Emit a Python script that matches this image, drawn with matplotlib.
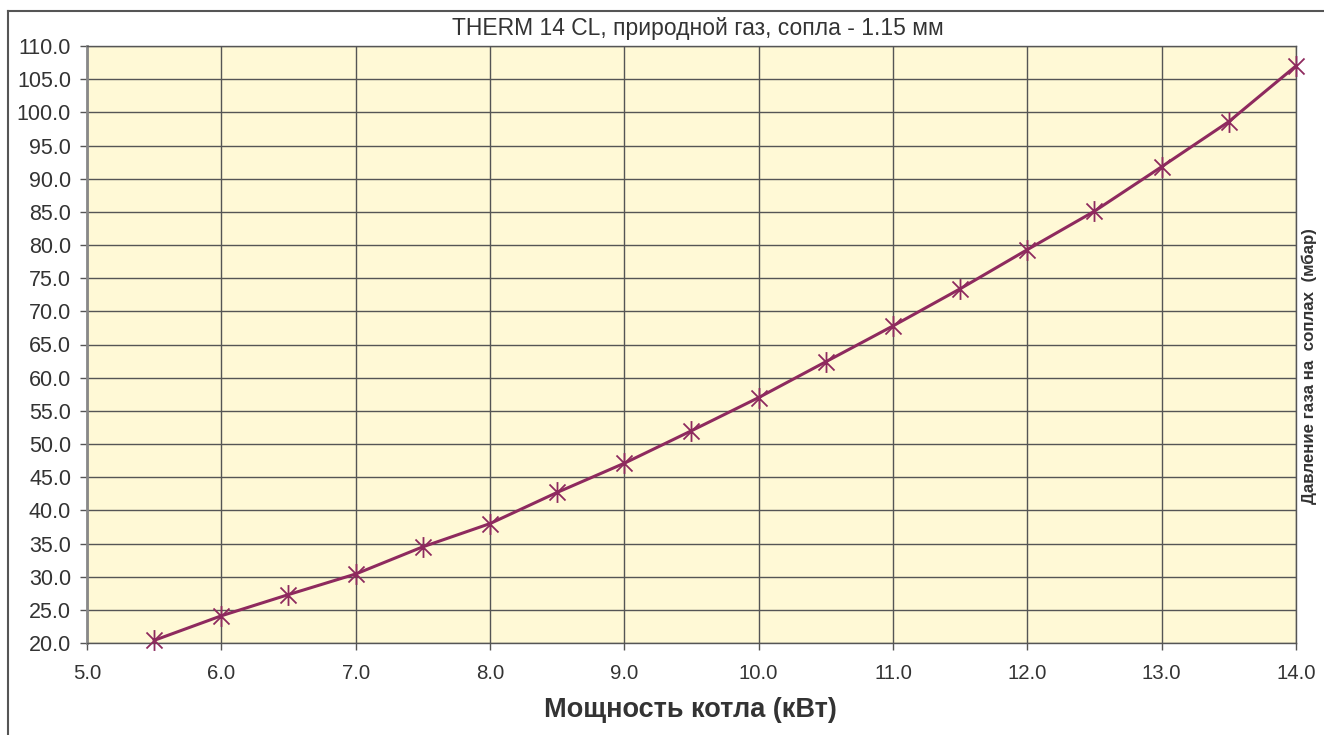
import matplotlib
matplotlib.use("Agg")
import matplotlib.pyplot as plt
from matplotlib.path import Path
from matplotlib.lines import Line2D
import numpy as np

plt.rcParams['font.family'] = ['Liberation Sans', 'DejaVu Sans']

power_kw = [5.5, 6.0, 6.5, 7.0, 7.5, 8.0, 8.5, 9.0, 9.5, 10.0, 10.5, 11.0, 11.5, 12.0, 12.5, 13.0, 13.5, 14.0]
pressure_mbar = [20.4, 24.1, 27.3, 30.4, 34.5, 38.0, 42.7, 47.1, 52.0, 57.0, 62.4, 67.8, 73.4, 79.3, 85.1, 91.8, 98.6, 107.0]
x_ticks = [5.0, 6.0, 7.0, 8.0, 9.0, 10.0, 11.0, 12.0, 13.0, 14.0]
y_ticks = list(np.arange(20.0, 110.1, 5.0))

title = "THERM 14 CL, природной газ, сопла - 1.15 мм"
xlabel = "Мощность котла (кВт)"
ylabel = "Давление газа на  соплах  (мбар)"

W, H = 1324, 735
fig = plt.figure(figsize=(W / 100, H / 100), dpi=100)
fig.patch.set_facecolor('white')

ax = fig.add_axes([87 / W, 1 - 643 / H, (1296 - 87) / W, (643 - 46) / H])
ax.set_facecolor('#FFF9D6')

star = Path([(-1, -1), (1, 1), (-1, 1), (1, -1), (0, -1.3), (0, 1.3)],
            [Path.MOVETO, Path.LINETO, Path.MOVETO, Path.LINETO, Path.MOVETO, Path.LINETO])

ax.plot(power_kw, pressure_mbar, color='#8E2A5E', lw=2.2, marker=star,
        markersize=15, markeredgewidth=1.3, markeredgecolor='#8E2A5E', clip_on=False, zorder=5)

ax.set_xlim(5.0, 14.0)
ax.set_ylim(20.0, 110.0)
ax.set_xticks(x_ticks)
ax.set_yticks(y_ticks)
ax.set_xticklabels([f"{v:.1f}" for v in x_ticks])
ax.set_yticklabels([f"{v:.1f}" for v in y_ticks])
ax.tick_params(axis='both', direction='out', width=1, color='#555555', labelcolor='#333333')
ax.tick_params(axis='y', length=5, pad=6.5, labelsize=15.5)
ax.tick_params(axis='x', length=5, pad=10, labelsize=14.7)
ax.grid(True, color='#555555', lw=1)
ax.set_axisbelow(True)
for s in ax.spines.values():
    s.set_color('#555555')
    s.set_linewidth(1)
ax.spines['left'].set_color('#888888')
ax.spines['left'].set_linewidth(2)

fig.text(698 / W, 1 - 28 / H, title, ha='center', va='center', fontsize=16.5, color='#333333')
fig.text(690 / W, 1 - 717 / H, xlabel, ha='center', va='baseline', fontsize=19.5,
         fontweight='bold', color='#333333')
fig.text(1309 / W, 1 - 366 / H, ylabel, ha='center', va='center', fontsize=12.2,
         fontweight='bold', color='#333333', rotation=90)

fig.add_artist(Line2D([8 / W, 8 / W], [0, 1 - 11 / H], transform=fig.transFigure,
                      color='#555555', lw=1.5))
fig.add_artist(Line2D([8 / W, 1], [1 - 11 / H, 1 - 11 / H], transform=fig.transFigure,
                      color='#555555', lw=1.5))

fig.savefig('out.png', dpi=100)
